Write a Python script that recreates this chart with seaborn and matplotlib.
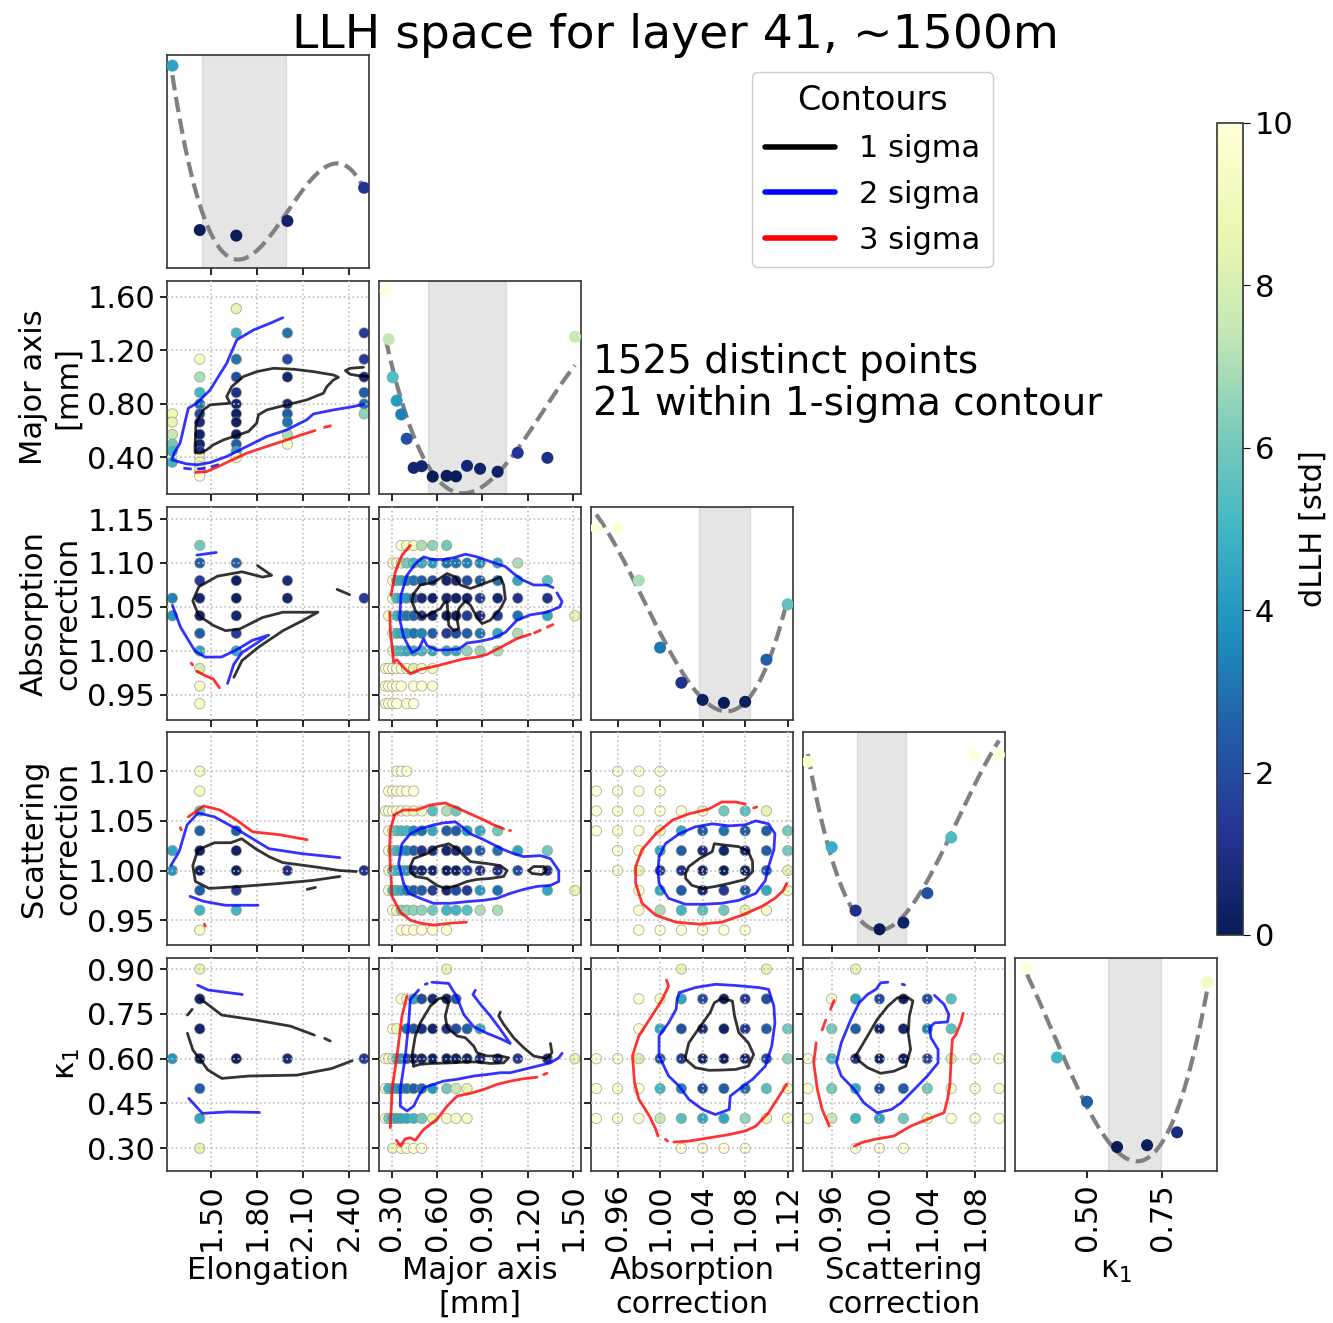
import numpy as np
import pandas as pd
import matplotlib
matplotlib.use("Agg")
import matplotlib.pyplot as plt
import seaborn as sns
from matplotlib.lines import Line2D
from matplotlib.cm import ScalarMappable
from matplotlib.colors import Normalize

sns.set_style("ticks")
plt.rcParams['font.family'] = ['DejaVu Sans']
plt.rcParams['text.color'] = 'black'
plt.rcParams['axes.labelcolor'] = 'black'
plt.rcParams['xtick.color'] = 'black'
plt.rcParams['ytick.color'] = 'black'
plt.rcParams['axes.edgecolor'] = '0.2'

# ---------------- data ----------------
PARAM_LABELS = ["Elongation", "Major axis\n[mm]", "Absorption\ncorrection",
                "Scattering\ncorrection", "\u03ba$_1$"]
TITLE = "LLH space for layer 41, ~1500m"
INFO_TEXT = "1525 distinct points\n21 within 1-sigma contour"
LEGEND_LABELS = ["1 sigma", "2 sigma", "3 sigma"]

XTICKS = [[1.5, 1.8, 2.1, 2.4], [0.3, 0.6, 0.9, 1.2, 1.5],
          [0.96, 1.00, 1.04, 1.08, 1.12], [0.96, 1.00, 1.04, 1.08], [0.50, 0.75]]
YTICKS = {1: [0.4, 0.8, 1.2, 1.6], 2: [0.95, 1.00, 1.05, 1.10, 1.15],
          3: [0.95, 1.00, 1.05, 1.10], 4: [0.30, 0.45, 0.60, 0.75, 0.90]}
XLIMS = [(1.215, 2.532), (0.216, 1.551), (0.935, 1.125), (0.936, 1.105), (0.26, 0.933)]
YLIMS = {1: (0.126, 1.717), 2: (0.9214, 1.1637), 3: (0.925, 1.1395), 4: (0.224, 0.937)}
DIAG_YLIMS = [(-0.82, 4.57), (-0.94, 10.54), (-0.98, 11.2), (-0.9, 11.3), (-1.34, 10.56)]

# 1D profiles (diagonal)
D0_X = [1.25, 1.4286, 1.6667, 2.0, 2.5]
D0_Y = [4.3, 0.14, 0.0, 0.37, 1.21]
D1_X = [0.26, 0.28, 0.3066, 0.333, 0.363, 0.399, 0.445, 0.498, 0.571, 0.663, 0.725,
        0.798, 0.884, 1.0, 1.133, 1.329, 1.511]
D1_Y = [10, 7.4, 5.35, 4.09, 3.35, 2.04, 0.47, 0.56, 0.0, 0.04, 0.01, 0.58, 0.42, 0.26,
        1.28, 1.01, 7.54]
D2_X = [0.94, 0.96, 0.98, 1.00, 1.02, 1.04, 1.06, 1.08, 1.10, 1.12]
D2_Y = [10, 10, 7.0, 3.16, 1.15, 0.17, 0.0, 0.06, 2.47, 5.63]
D3_X = [0.94, 0.96, 0.98, 1.00, 1.02, 1.04, 1.06, 1.08, 1.10]
D3_Y = [9.6, 4.7, 1.07, 0.0, 0.38, 2.07, 5.26, 10, 10]
D4_X = [0.3, 0.4, 0.5, 0.6, 0.7, 0.8, 0.9]
D4_Y = [10, 5.0, 2.53, 0.0, 0.1, 0.82, 9.2]
DIAG = [(D0_X, D0_Y), (D1_X, D1_Y), (D2_X, D2_Y), (D3_X, D3_Y), (D4_X, D4_Y)]
FIT_DEG = [3, 3, 3, 3, 3]
SPANS = [(1.443, 1.991), (0.542, 1.053), (1.037, 1.085), (0.981, 1.022), (0.57, 0.745)]

# 2D scatter points (x, y, dLLH)
P10 = [(1.25, 0.725, 9), (1.25, 0.663, 8.5), (1.25, 0.571, 7.5), (1.25, 0.498, 6), (1.25, 0.445, 5), (1.25, 0.363, 5),
       (1.4286, 1.133, 9.5), (1.4286, 1.0, 7), (1.4286, 0.884, 5), (1.4286, 0.798, 3), (1.4286, 0.725, 2),
       (1.4286, 0.663, 1), (1.4286, 0.571, 0.5), (1.4286, 0.498, 0.5), (1.4286, 0.445, 1), (1.4286, 0.399, 9),
       (1.4286, 0.363, 9.5), (1.4286, 0.333, 10), (1.4286, 0.3066, 10), (1.4286, 0.28, 10), (1.4286, 0.26, 10),
       (1.6667, 1.511, 8.5), (1.6667, 1.329, 5), (1.6667, 1.133, 3), (1.6667, 1.0, 2), (1.6667, 0.884, 1),
       (1.6667, 0.798, 0.5), (1.6667, 0.725, 0.3), (1.6667, 0.663, 0.2), (1.6667, 0.571, 0.3),
       (1.6667, 0.498, 2.5), (1.6667, 0.445, 4.5), (1.6667, 0.399, 9),
       (2.0, 1.329, 3), (2.0, 1.133, 2), (2.0, 1.0, 0.5), (2.0, 0.798, 0.8), (2.0, 0.725, 2.5),
       (2.0, 0.663, 3), (2.0, 0.571, 7), (2.0, 0.498, 9.5),
       (2.5, 1.329, 1.5), (2.5, 1.133, 1.5), (2.5, 1.0, 0.8), (2.5, 0.884, 2.5), (2.5, 0.798, 3), (2.5, 0.725, 6.5)]
P20 = [(1.25, 1.06, 3.5), (1.25, 1.04, 4),
       (1.4286, 1.12, 6), (1.4286, 1.10, 2.5), (1.4286, 1.08, 1.5), (1.4286, 1.06, 0.5), (1.4286, 1.04, 0.5),
       (1.4286, 1.02, 2.5), (1.4286, 1.00, 4.5), (1.4286, 0.98, 8), (1.4286, 0.96, 9.5), (1.4286, 0.94, 9.5),
       (1.6667, 1.10, 2.5), (1.6667, 1.08, 0.3), (1.6667, 1.06, 0.2), (1.6667, 1.04, 0.5), (1.6667, 1.02, 1.5),
       (1.6667, 1.00, 4.5), (2.0, 1.08, 0.8), (2.0, 1.06, 0.5), (2.5, 1.06, 1.5)]
P30 = [(1.25, 1.02, 4.5), (1.25, 1.00, 4),
       (1.4286, 1.10, 9.5), (1.4286, 1.08, 9.5), (1.4286, 1.06, 5.5), (1.4286, 1.04, 2.5), (1.4286, 1.02, 0.5),
       (1.4286, 1.00, 0.3), (1.4286, 0.98, 2.5), (1.4286, 0.96, 5), (1.4286, 0.94, 9.5),
       (1.6667, 1.04, 2.5), (1.6667, 1.02, 0.3), (1.6667, 1.00, 0.2), (1.6667, 0.98, 1.5), (1.6667, 0.96, 5),
       (2.0, 1.00, 1), (2.5, 1.00, 1.2)]
P40 = [(1.25, 0.6, 4),
       (1.4286, 0.9, 8.5), (1.4286, 0.8, 0.5), (1.4286, 0.7, 0.5), (1.4286, 0.6, 0.3), (1.4286, 0.5, 2.5),
       (1.4286, 0.4, 4.5), (1.4286, 0.3, 8.5),
       (1.6667, 0.6, 0.2), (2.0, 0.6, 0.8), (2.5, 0.6, 1.5)]

# rows: (y, [(x, dLLH), ...])
P21 = [(1.12, [(0.363, 10), (0.399, 9.5), (0.445, 9), (0.498, 7), (0.571, 6.5), (0.663, 6)]),
       (1.10, [(0.3066, 10), (0.333, 9.5), (0.363, 8), (0.399, 6), (0.445, 5), (0.498, 4.5), (0.571, 4),
               (0.663, 3), (0.725, 3), (0.798, 3.5), (0.884, 3.5), (1.0, 4.5), (1.133, 7)]),
       (1.08, [(0.3066, 9.5), (0.333, 5), (0.363, 4.5), (0.399, 3.5), (0.445, 3), (0.498, 2.5), (0.571, 2),
               (0.663, 0.5), (0.725, 0.8), (0.798, 2), (0.884, 2.5), (1.0, 3), (1.133, 4.5), (1.329, 5.5)]),
       (1.06, [(0.3066, 9.5), (0.333, 5), (0.363, 4.5), (0.399, 4), (0.445, 2.5), (0.498, 0.7), (0.571, 0.3),
               (0.663, 0.5), (0.725, 0.3), (0.798, 0.5), (0.884, 1.5), (1.0, 0.5), (1.133, 1.2), (1.329, 1.2)]),
       (1.04, [(0.28, 9.5), (0.333, 5), (0.363, 4), (0.399, 3), (0.445, 2.5), (0.498, 1.5), (0.571, 0.5),
               (0.663, 0.3), (0.725, 0.3), (0.798, 1.5), (0.884, 1), (1.0, 1.5), (1.133, 3), (1.329, 4.5),
               (1.511, 8.5)]),
       (1.02, [(0.3066, 9.5), (0.333, 5), (0.363, 4.5), (0.399, 4), (0.445, 3), (0.498, 3.5), (0.571, 2.5),
               (0.663, 1.5), (0.725, 2), (0.798, 2.5), (0.884, 3), (1.0, 4.5), (1.133, 7)]),
       (1.00, [(0.3066, 9.5), (0.333, 5.5), (0.363, 5), (0.399, 4.5), (0.445, 4.5), (0.498, 5), (0.571, 4.5),
               (0.663, 4.5), (0.725, 4.5), (0.798, 6.5), (0.884, 6.5), (1.0, 7)]),
       (0.98, [(0.26, 10), (0.28, 10), (0.3066, 10), (0.333, 10), (0.363, 10), (0.399, 9.5), (0.445, 8),
               (0.498, 9.5), (0.571, 9.5)]),
       (0.96, [(0.26, 10), (0.28, 10), (0.3066, 10), (0.333, 10), (0.363, 10), (0.445, 10), (0.498, 10),
               (0.571, 10)]),
       (0.94, [(0.26, 10), (0.28, 10), (0.3066, 10), (0.333, 10), (0.399, 10), (0.445, 10)])]
P31 = [(1.10, [(0.333, 10), (0.363, 10), (0.399, 10)]),
       (1.08, [(0.28, 10), (0.3066, 10), (0.333, 10), (0.363, 10), (0.399, 10), (0.445, 10)]),
       (1.06, [(0.26, 10), (0.28, 10), (0.3066, 10), (0.333, 10), (0.363, 10), (0.399, 9.5), (0.445, 9),
               (0.498, 9.5), (0.571, 5.5), (0.663, 7), (0.725, 6)]),
       (1.04, [(0.28, 10), (0.3066, 8.5), (0.333, 5.5), (0.363, 5), (0.399, 5), (0.445, 3.5), (0.498, 3),
               (0.571, 4.5), (0.663, 2.5), (0.725, 2.5), (0.798, 4), (0.884, 4.5), (1.0, 6)]),
       (1.02, [(0.28, 9.5), (0.3066, 6.5), (0.333, 5), (0.363, 4.5), (0.399, 3.5), (0.445, 2.5), (0.498, 1.2),
               (0.571, 1), (0.663, 0.5), (0.725, 0.8), (0.798, 2), (0.884, 2.5), (1.0, 3), (1.133, 4.5),
               (1.329, 6)]),
       (1.00, [(0.28, 9.5), (0.3066, 5), (0.333, 5), (0.363, 4.5), (0.399, 4), (0.445, 1), (0.498, 0.5),
               (0.571, 0.5), (0.663, 0.2), (0.725, 0.3), (0.798, 1.5), (0.884, 1), (1.0, 1), (1.133, 2),
               (1.329, 1.2)]),
       (0.98, [(0.28, 9.5), (0.3066, 5), (0.333, 5), (0.363, 4.5), (0.399, 3.5), (0.445, 2.5), (0.498, 2.5),
               (0.571, 1.5), (0.663, 0.8), (0.725, 2), (0.798, 1.5), (0.884, 4), (1.0, 3), (1.329, 4.5),
               (1.511, 8.5)]),
       (0.96, [(0.3066, 10), (0.333, 9), (0.363, 6.5), (0.399, 6.5), (0.445, 6.5), (0.498, 6.5), (0.571, 6),
               (0.663, 5), (0.725, 5), (0.798, 5.5), (0.884, 7), (1.0, 7)]),
       (0.94, [(0.363, 10), (0.399, 10), (0.445, 10), (0.498, 10), (0.571, 10), (0.663, 10)])]
P41 = [(0.9, [(0.663, 8.5)]),
       (0.8, [(0.363, 10), (0.399, 9.5), (0.445, 4.5), (0.498, 2), (0.571, 0.8), (0.663, 0.5), (0.725, 2.5)]),
       (0.7, [(0.3066, 10), (0.333, 9), (0.399, 3), (0.445, 2), (0.498, 1), (0.571, 0.5), (0.663, 1.2),
              (0.725, 2), (0.798, 2.5), (0.884, 4.5)]),
       (0.6, [(0.26, 10), (0.28, 10), (0.3066, 8), (0.333, 5), (0.363, 4), (0.399, 2), (0.445, 0.8),
              (0.498, 0.5), (0.571, 0.3), (0.663, 0.2), (0.725, 0.3), (0.798, 0.5), (0.884, 0.8), (1.0, 0.8),
              (1.133, 1.5), (1.329, 1), (1.511, 8.5)]),
       (0.5, [(0.26, 10), (0.28, 5), (0.3066, 4.5), (0.333, 4), (0.363, 3.5), (0.399, 3), (0.445, 2.5),
              (0.498, 3), (0.571, 4), (0.663, 6), (0.725, 7.5), (0.798, 8.5)]),
       (0.4, [(0.26, 10), (0.28, 6), (0.3066, 5), (0.333, 4.5), (0.363, 4.5), (0.399, 4.5), (0.445, 5),
              (0.498, 6), (0.571, 8.5), (0.663, 9.5), (0.725, 9.5), (0.798, 9.5)]),
       (0.3, [(0.3066, 9), (0.363, 9.5), (0.399, 10), (0.445, 10), (0.498, 10)])]
P32 = [(1.10, [(0.96, 10), (0.98, 10), (1.00, 10)]),
       (1.08, [(0.94, 10), (0.96, 10), (0.98, 10), (1.00, 10)]),
       (1.06, [(0.94, 10), (0.96, 10), (0.98, 10), (1.00, 10), (1.02, 10), (1.04, 9.5), (1.06, 6), (1.08, 5.5),
               (1.10, 8.5)]),
       (1.04, [(0.94, 10), (0.96, 10), (0.98, 10), (1.00, 9), (1.02, 4.5), (1.04, 2.5), (1.06, 3), (1.08, 2.5),
               (1.10, 2.5), (1.12, 6)]),
       (1.02, [(0.96, 10), (0.98, 10), (1.00, 4.5), (1.02, 2.5), (1.04, 1), (1.06, 0.5), (1.08, 0.8),
               (1.10, 2.5), (1.12, 6)]),
       (1.00, [(0.96, 10), (0.98, 8.5), (1.00, 1.5), (1.02, 1.2), (1.04, 0.5), (1.06, 0.2), (1.08, 0.3),
               (1.10, 2.5), (1.12, 8.5)]),
       (0.98, [(0.98, 10), (1.00, 4.5), (1.02, 2.5), (1.04, 0.8), (1.06, 1.5), (1.08, 2.5), (1.10, 4.5),
               (1.12, 9.5)]),
       (0.96, [(0.98, 10), (1.00, 7), (1.02, 5), (1.04, 5.5), (1.06, 6), (1.08, 8.5), (1.10, 9.5)]),
       (0.94, [(0.98, 10), (1.00, 10), (1.02, 10), (1.04, 10), (1.06, 10), (1.08, 10)])]
P42 = [(0.9, [(1.02, 8.5), (1.10, 8.5)]),
       (0.8, [(0.98, 10), (1.00, 9.5), (1.02, 4.5), (1.04, 2), (1.06, 0.3), (1.08, 1.5), (1.10, 2)]),
       (0.7, [(0.98, 10), (1.00, 4.5), (1.02, 2), (1.04, 1), (1.06, 0.3), (1.08, 1.5), (1.10, 2.5), (1.12, 6)]),
       (0.6, [(0.94, 10), (0.96, 10), (0.98, 8), (1.00, 2.5), (1.02, 1.5), (1.04, 0.5), (1.06, 0.2),
              (1.08, 0.5), (1.10, 2), (1.12, 6.5)]),
       (0.5, [(0.94, 10), (0.96, 10), (0.98, 10), (1.00, 5), (1.02, 3.5), (1.04, 2), (1.06, 2.5), (1.08, 3),
              (1.10, 5.5), (1.12, 9.5)]),
       (0.4, [(0.94, 10), (0.96, 10), (0.98, 10), (1.00, 7.5), (1.02, 5.5), (1.04, 4.5), (1.06, 4.5),
              (1.08, 6.5), (1.10, 9), (1.12, 9.5)]),
       (0.3, [(1.02, 10), (1.04, 10), (1.06, 10), (1.08, 10)])]
P43 = [(0.9, [(0.98, 8.5)]),
       (0.8, [(0.96, 10), (0.98, 4.5), (1.00, 2), (1.02, 0.3), (1.04, 2), (1.06, 5.5)]),
       (0.7, [(0.96, 6), (0.98, 2.5), (1.00, 0.5), (1.02, 0.5), (1.04, 3.5), (1.06, 5.5)]),
       (0.6, [(0.94, 10), (0.96, 5), (0.98, 1.2), (1.00, 0.3), (1.02, 0.2), (1.04, 1.8), (1.06, 8), (1.08, 10),
              (1.10, 10)]),
       (0.5, [(0.94, 10), (0.96, 6), (0.98, 4.5), (1.00, 2), (1.02, 2.5), (1.04, 6), (1.06, 9.5), (1.08, 10),
              (1.10, 10)]),
       (0.4, [(0.94, 10), (0.96, 7.5), (0.98, 5), (1.00, 4.5), (1.02, 6), (1.04, 9.5), (1.06, 10), (1.08, 10),
              (1.10, 10)]),
       (0.3, [(0.98, 10), (1.00, 10), (1.02, 10)])]

# contour paths: (kind, [(x, y), ...]); kind: k/b/r, trailing 'd' = dashed piece
C10 = [("k", [(1.398, 0.481), (1.404, 0.655), (1.452, 0.754), (1.496, 0.792), (1.626, 0.804), (1.604, 0.854),
              (1.637, 0.928), (1.713, 1.003), (1.800, 1.040), (1.909, 1.065), (2.039, 1.058), (2.170, 1.040),
              (2.300, 1.015), (2.333, 0.998), (2.300, 0.978), (2.257, 0.928), (2.235, 0.879), (2.126, 0.829),
              (1.996, 0.792), (1.865, 0.754), (1.811, 0.717), (1.800, 0.655), (1.746, 0.593), (1.648, 0.555),
              (1.583, 0.530), (1.517, 0.493), (1.474, 0.456), (1.430, 0.431), (1.398, 0.436), (1.398, 0.481)]),
       ("k", [(2.496, 1.073), (2.409, 1.065), (2.378, 1.048), (2.409, 1.020), (2.474, 1.008), (2.533, 1.003)]),
       ("b", [(1.970, 1.443), (1.887, 1.401), (1.778, 1.351), (1.670, 1.277), (1.604, 1.102), (1.496, 0.903),
              (1.409, 0.804), (1.354, 0.767), (1.300, 0.505), (1.261, 0.431), (1.246, 0.381), (1.343, 0.351),
              (1.409, 0.344), (1.496, 0.361), (1.604, 0.406), (1.735, 0.481), (1.865, 0.555), (1.996, 0.605),
              (2.126, 0.680), (2.170, 0.724), (2.300, 0.754), (2.430, 0.779), (2.496, 0.797)]),
       ("bd", [(1.322, 0.319), (1.387, 0.311), (1.474, 0.319), (1.583, 0.356)]),
       ("r", [(1.404, 0.287), (1.474, 0.294), (1.539, 0.326), (1.604, 0.361), (1.735, 0.431), (1.865, 0.481),
              (1.996, 0.530), (2.083, 0.565), (2.180, 0.600)]),
       ("rd", [(2.235, 0.622), (2.289, 0.637)])]
C20 = [("k", [(1.805, 1.097), (1.897, 1.086), (1.838, 1.084), (1.704, 1.090), (1.544, 1.085), (1.423, 1.073),
              (1.383, 1.057), (1.423, 1.040), (1.517, 1.029), (1.597, 1.023), (1.690, 1.025), (1.838, 1.038),
              (1.971, 1.044), (2.199, 1.044), (2.105, 1.035), (1.971, 1.023), (1.810, 1.004), (1.704, 0.989),
              (1.651, 0.970)]),
       ("k", [(2.324, 1.070), (2.405, 1.064)]),
       ("b", [(1.410, 1.109), (1.536, 1.112)]),
       ("b", [(1.250, 1.052), (1.303, 1.027), (1.397, 1.000), (1.463, 0.993), (1.570, 0.993), (1.677, 1.002),
              (1.771, 1.012), (1.878, 1.018), (1.810, 1.010), (1.704, 0.998), (1.651, 0.985), (1.610, 0.963)]),
       ("r", [(1.374, 0.986), (1.382, 0.984)]),
       ("r", [(1.410, 0.977), (1.463, 0.972), (1.517, 0.968), (1.557, 0.958)])]
C30 = [("k", [(2.449, 0.999), (2.342, 1.000), (2.165, 1.004), (1.969, 1.008), (1.880, 1.014), (1.792, 1.022),
              (1.702, 1.032), (1.631, 1.028), (1.525, 1.028), (1.418, 1.021), (1.383, 1.005), (1.400, 0.989),
              (1.489, 0.982), (1.702, 0.984), (1.951, 0.987), (2.165, 0.990), (2.342, 0.994)]),
       ("k", [(2.129, 0.981), (2.183, 0.983)]),
       ("b", [(1.240, 1.005), (1.294, 1.019), (1.346, 1.046), (1.418, 1.058), (1.525, 1.054), (1.667, 1.042),
              (1.773, 1.032), (1.880, 1.022), (2.094, 1.017), (2.342, 1.013)]),
       ("b", [(1.365, 0.974), (1.454, 0.969), (1.596, 0.965), (1.809, 0.965)]),
       ("r", [(1.354, 1.054), (1.454, 1.065), (1.560, 1.061), (1.667, 1.051), (1.773, 1.039), (1.951, 1.036),
              (2.129, 1.031)]),
       ("r", [(1.302, 1.043), (1.308, 1.041)]),
       ("r", [(1.459, 0.946), (1.465, 0.944)])]
C40 = [("k", [(1.429, 0.802), (1.572, 0.746), (1.796, 0.729), (2.019, 0.709), (2.176, 0.679)]),
       ("k", [(2.243, 0.668), (2.279, 0.659)]),
       ("k", [(1.348, 0.685), (1.384, 0.629), (1.482, 0.562), (1.572, 0.534), (1.751, 0.542), (2.064, 0.545),
              (2.288, 0.567), (2.422, 0.593)]),
       ("k", [(1.348, 0.746), (1.379, 0.765)]),
       ("b", [(1.415, 0.846), (1.482, 0.830), (1.706, 0.815)]),
       ("b", [(1.357, 0.467), (1.446, 0.417), (1.617, 0.422), (1.818, 0.420)])]
C21 = [("k", [(0.445, 1.065), (0.489, 1.075), (0.577, 1.078), (0.666, 1.088), (0.721, 1.084), (0.754, 1.075),
              (0.820, 1.071), (0.886, 1.075), (0.963, 1.080), (1.018, 1.084), (1.040, 1.075), (1.051, 1.059),
              (1.018, 1.048), (0.952, 1.035), (0.897, 1.031), (0.864, 1.038), (0.820, 1.052), (0.787, 1.057),
              (0.743, 1.048), (0.732, 1.036), (0.743, 1.025), (0.710, 1.023), (0.677, 1.029), (0.666, 1.056),
              (0.644, 1.054), (0.621, 1.048), (0.555, 1.042), (0.500, 1.038), (0.456, 1.046), (0.434, 1.056),
              (0.445, 1.065)]),
       ("b", [(1.366, 1.072), (1.326, 1.075), (1.238, 1.075), (1.161, 1.081), (1.106, 1.088), (1.051, 1.096),
              (0.963, 1.101), (0.864, 1.107), (0.787, 1.110), (0.710, 1.106), (0.643, 1.104), (0.566, 1.104),
              (0.511, 1.107), (0.456, 1.099), (0.401, 1.086), (0.361, 1.063), (0.353, 1.036), (0.379, 1.016),
              (0.434, 0.998), (0.478, 1.002), (0.511, 1.014), (0.533, 1.006), (0.599, 1.001), (0.676, 1.001),
              (0.743, 1.002), (0.798, 1.009), (0.886, 1.011), (0.963, 1.014), (1.051, 1.021), (1.128, 1.035),
              (1.216, 1.041), (1.326, 1.044), (1.410, 1.050), (1.426, 1.056), (1.392, 1.066)]),
       ("r", [(0.423, 1.120), (0.368, 1.109), (0.324, 1.090), (0.295, 1.063)]),
       ("r", [(0.287, 1.044), (0.291, 1.021), (0.302, 1.006), (0.313, 0.987), (0.335, 0.990), (0.368, 0.983),
              (0.423, 0.974), (0.489, 0.979), (0.599, 0.983), (0.688, 0.987), (0.776, 0.991), (0.864, 0.993),
              (0.930, 0.996), (1.040, 1.006), (1.128, 1.014), (1.216, 1.019)]),
       ("rd", [(1.238, 1.020), (1.392, 1.032)])]
C31 = [("k", [(0.423, 1.004), (0.445, 1.012), (0.533, 1.017), (0.599, 1.024), (0.654, 1.026), (0.676, 1.027),
              (0.732, 1.022), (0.776, 1.015), (0.820, 1.009), (0.930, 1.007), (1.018, 1.005), (1.062, 1.000),
              (1.040, 0.994), (0.952, 0.992), (0.864, 0.991), (0.798, 0.989), (0.732, 0.985), (0.654, 0.982),
              (0.599, 0.985), (0.533, 0.992), (0.456, 0.994), (0.423, 0.999), (0.423, 1.004)]),
       ("k", [(1.205, 1.000), (1.238, 1.004), (1.304, 1.004), (1.326, 1.000), (1.293, 0.996), (1.227, 0.997),
              (1.205, 1.000)]),
       ("b", [(0.379, 0.987), (0.346, 1.007), (0.368, 1.027), (0.423, 1.037), (0.489, 1.042), (0.577, 1.046),
              (0.643, 1.048), (0.721, 1.049), (0.765, 1.044), (0.820, 1.037), (0.908, 1.031), (0.974, 1.026),
              (1.040, 1.021), (1.106, 1.017), (1.172, 1.014), (1.282, 1.015), (1.349, 1.012), (1.404, 1.000),
              (1.404, 0.989), (1.349, 0.985), (1.260, 0.984), (1.172, 0.981), (1.084, 0.977), (0.996, 0.972),
              (0.908, 0.970), (0.820, 0.969), (0.688, 0.967), (0.577, 0.967), (0.489, 0.972), (0.412, 0.977),
              (0.379, 0.987)]),
       ("r", [(0.313, 1.056), (0.379, 1.061), (0.467, 1.061), (0.555, 1.066), (0.654, 1.068), (0.732, 1.063),
              (0.820, 1.057), (0.908, 1.051), (0.974, 1.046), (1.040, 1.042)]),
       ("r", [(1.073, 1.041), (1.080, 1.041)]),
       ("r", [(0.317, 1.055), (0.291, 1.041), (0.287, 1.024), (0.291, 1.000)]),
       ("r", [(0.295, 0.994), (0.302, 0.974), (0.357, 0.958), (0.423, 0.950), (0.489, 0.947), (0.577, 0.945),
              (0.688, 0.947), (0.794, 0.948)])]
C41 = [("k", [(0.445, 0.575), (0.434, 0.609), (0.456, 0.676), (0.489, 0.720), (0.555, 0.776), (0.610, 0.801),
              (0.654, 0.804), (0.676, 0.787), (0.654, 0.743), (0.666, 0.704), (0.732, 0.676), (0.787, 0.670),
              (0.842, 0.642), (0.864, 0.620), (0.930, 0.609), (1.018, 0.609), (1.073, 0.603), (1.040, 0.586),
              (0.952, 0.584), (0.864, 0.589), (0.798, 0.589), (0.688, 0.586), (0.555, 0.584), (0.489, 0.581),
              (0.445, 0.575)]),
       ("k", [(1.018, 0.756), (1.007, 0.743), (1.040, 0.715), (1.106, 0.670), (1.172, 0.637), (1.238, 0.609),
              (1.326, 0.600), (1.359, 0.620), (1.349, 0.651)]),
       ("b", [(0.853, 0.829), (0.837, 0.815), (0.886, 0.782), (0.952, 0.743), (1.018, 0.698), (1.084, 0.651),
              (1.018, 0.667), (0.930, 0.685), (0.842, 0.707), (0.776, 0.748), (0.727, 0.810), (0.676, 0.852),
              (0.566, 0.856)]),
       ("b", [(0.478, 0.830), (0.423, 0.798), (0.412, 0.720), (0.390, 0.609), (0.357, 0.497), (0.357, 0.441),
              (0.401, 0.425), (0.445, 0.441), (0.478, 0.475), (0.511, 0.503), (0.577, 0.514), (0.643, 0.525),
              (0.732, 0.531), (0.842, 0.542), (0.930, 0.547), (1.018, 0.553), (1.084, 0.553), (1.172, 0.564),
              (1.260, 0.575), (1.349, 0.586), (1.404, 0.603), (1.426, 0.618)]),
       ("b", [(0.522, 0.849), (0.535, 0.851)]),
       ("r", [(0.401, 0.810), (0.368, 0.743), (0.335, 0.609), (0.302, 0.497), (0.291, 0.369)]),
       ("r", [(0.331, 0.327), (0.357, 0.307), (0.390, 0.332), (0.423, 0.335), (0.456, 0.327), (0.511, 0.363),
              (0.599, 0.397), (0.666, 0.441), (0.732, 0.475), (0.820, 0.484), (0.908, 0.497), (0.996, 0.514),
              (1.084, 0.525), (1.172, 0.533), (1.260, 0.538)]),
       ("r", [(1.304, 0.547), (1.326, 0.551)])]
C32 = [("k", [(1.024, 0.997), (1.027, 1.004), (1.037, 1.012), (1.049, 1.019), (1.051, 1.027), (1.058, 1.026),
              (1.074, 1.024), (1.083, 1.019), (1.087, 1.009), (1.087, 0.999), (1.080, 0.991), (1.065, 0.987),
              (1.052, 0.984), (1.040, 0.982), (1.030, 0.985), (1.024, 0.992), (1.024, 0.997)]),
       ("b", [(0.999, 1.014), (1.005, 1.027), (1.018, 1.037), (1.033, 1.044), (1.049, 1.047), (1.065, 1.045),
              (1.080, 1.046), (1.090, 1.050), (1.102, 1.047), (1.108, 1.037), (1.107, 1.021), (1.102, 1.004),
              (1.099, 0.990), (1.090, 0.977), (1.074, 0.970), (1.058, 0.967), (1.040, 0.966), (1.024, 0.966),
              (1.008, 0.972), (0.999, 0.987), (0.998, 1.000), (0.999, 1.014)]),
       ("r", [(1.080, 1.067), (1.071, 1.069), (1.058, 1.069), (1.046, 1.062), (1.027, 1.057), (1.012, 1.051),
              (0.996, 1.037), (0.983, 1.021), (0.977, 1.004), (0.977, 0.987), (0.983, 0.967), (0.996, 0.955),
              (1.015, 0.948), (1.037, 0.946), (1.058, 0.948), (1.077, 0.955), (1.096, 0.964), (1.108, 0.972),
              (1.116, 0.980), (1.119, 0.987)]),
       ("r", [(1.088, 1.063), (1.091, 1.064)])]
C42 = [("k", [(1.024, 0.609), (1.027, 0.653), (1.037, 0.704), (1.047, 0.754), (1.051, 0.787), (1.058, 0.802),
              (1.068, 0.793), (1.070, 0.743), (1.074, 0.687), (1.083, 0.653), (1.088, 0.614), (1.083, 0.575),
              (1.071, 0.564), (1.058, 0.562), (1.046, 0.561), (1.033, 0.570), (1.024, 0.598), (1.024, 0.609)]),
       ("b", [(1.018, 0.821), (1.033, 0.838), (1.052, 0.849), (1.071, 0.845), (1.093, 0.838), (1.102, 0.832),
              (1.107, 0.776), (1.108, 0.720), (1.105, 0.642), (1.099, 0.575), (1.087, 0.531), (1.074, 0.497),
              (1.066, 0.475), (1.065, 0.430), (1.052, 0.413), (1.040, 0.430), (1.027, 0.464), (1.018, 0.508),
              (1.008, 0.542), (0.999, 0.609), (0.999, 0.676), (1.008, 0.720), (1.015, 0.765), (1.016, 0.798),
              (1.018, 0.821)]),
       ("r", [(1.006, 0.863), (1.008, 0.843), (1.002, 0.798), (0.990, 0.731), (0.980, 0.676), (0.974, 0.609),
              (0.976, 0.519), (0.980, 0.464), (0.990, 0.408), (0.996, 0.363), (0.998, 0.341)]),
       ("r", [(1.005, 0.330), (1.007, 0.324)]),
       ("r", [(1.013, 0.321), (1.027, 0.324), (1.046, 0.335), (1.065, 0.346), (1.080, 0.358), (1.090, 0.374),
              (1.102, 0.419), (1.112, 0.475), (1.119, 0.514)])]
C43 = [("k", [(0.980, 0.609), (0.985, 0.642), (0.990, 0.676), (0.998, 0.731), (1.007, 0.776), (1.015, 0.804),
              (1.024, 0.804), (1.028, 0.793), (1.025, 0.743), (1.024, 0.687), (1.026, 0.631), (1.022, 0.575),
              (1.012, 0.558), (1.001, 0.551), (0.990, 0.570), (0.983, 0.592), (0.980, 0.609)]),
       ("b", [(1.007, 0.856), (1.001, 0.854), (0.997, 0.832), (0.990, 0.815), (0.983, 0.787), (0.976, 0.731),
              (0.968, 0.653), (0.964, 0.586), (0.968, 0.542), (0.979, 0.497), (0.987, 0.452), (0.998, 0.419),
              (1.010, 0.430), (1.018, 0.452), (1.029, 0.497), (1.040, 0.542), (1.049, 0.586), (1.049, 0.631),
              (1.043, 0.670), (1.042, 0.704), (1.046, 0.720), (1.057, 0.723), (1.058, 0.748), (1.054, 0.782),
              (1.046, 0.812)]),
       ("b", [(1.019, 0.849), (1.021, 0.847)]),
       ("r", [(0.962, 0.795), (0.959, 0.765)]),
       ("r", [(0.955, 0.729), (0.952, 0.696)]),
       ("r", [(0.947, 0.653), (0.945, 0.586), (0.948, 0.497), (0.952, 0.430), (0.958, 0.374)]),
       ("r", [(1.070, 0.752), (1.068, 0.720), (1.064, 0.681), (1.061, 0.665), (1.060, 0.609), (1.059, 0.519),
              (1.057, 0.464), (1.054, 0.419), (1.040, 0.397), (1.026, 0.374), (1.012, 0.341), (0.996, 0.330),
              (0.985, 0.319), (0.979, 0.307)])]

SCATTER = {(1, 0): P10, (2, 0): P20, (3, 0): P30, (4, 0): P40,
           (2, 1): P21, (3, 1): P31, (4, 1): P41, (3, 2): P32, (4, 2): P42, (4, 3): P43}
CONTOURS = {(1, 0): C10, (2, 0): C20, (3, 0): C30, (4, 0): C40, (2, 1): C21, (3, 1): C31,
            (4, 1): C41, (3, 2): C32, (4, 2): C42, (4, 3): C43}

# ---------------- drawing ----------------
W, H = 1333, 1323
CMAP = "YlGnBu_r"
NORM = Normalize(0, 10)
COLS_LEFT = [167, 379, 591, 803, 1015]
ROWS_TOP = [55, 281, 507, 732, 958]
AW, AH = 202, 213
LINE_COL = {"k": "black", "b": "blue", "r": "red"}


def to_frame(pts):
    if isinstance(pts[0][1], list):
        recs = [(x, y, v) for y, row in pts for x, v in row]
    else:
        recs = list(pts)
    return pd.DataFrame(recs, columns=["x", "y", "v"])


fig = plt.figure(figsize=(W / 100, H / 100), dpi=100)

for i in range(5):
    for j in range(i + 1):
        ax = fig.add_axes([COLS_LEFT[j] / W, (H - ROWS_TOP[i] - AH) / H, AW / W, AH / H])
        ax.set_xlim(*XLIMS[j])
        ax.set_xticks(XTICKS[j])
        ax.tick_params(labelsize=22, length=5, width=1.2)
        if i == j:
            dx, dy = DIAG[i]
            lo, hi = SPANS[i]
            ax.axvspan(lo, hi, color="grey", alpha=0.2, zorder=0)
            coef = np.polyfit(dx, dy, FIT_DEG[i])
            xs = np.linspace(min(dx), max(dx), 300)
            ax.plot(xs, np.polyval(coef, xs), ls="--", color="grey", lw=3, zorder=2)
            df = pd.DataFrame({"x": dx, "y": dy, "v": dy})
            sns.scatterplot(data=df, x="x", y="y", hue="v", palette=CMAP, hue_norm=(0, 10),
                            s=75, edgecolor="none", legend=False, ax=ax, zorder=3)
            ax.set_ylim(*DIAG_YLIMS[i])
            ax.set_yticks([])
        else:
            df = to_frame(SCATTER[(i, j)])
            sns.scatterplot(data=df, x="x", y="y", hue="v", palette=CMAP, hue_norm=(0, 10),
                            s=55, edgecolor=(0.55, 0.55, 0.45, 0.7), linewidth=0.6,
                            legend=False, ax=ax, zorder=1)
            for kind, path in CONTOURS[(i, j)]:
                px = [p[0] for p in path]
                py = [p[1] for p in path]
                ls = (0, (3, 2)) if kind.endswith("d") else "-"
                ax.plot(px, py, color=LINE_COL[kind[0]], alpha=0.8, lw=2, ls=ls, zorder=4)
            ax.set_ylim(*YLIMS[i])
            ax.set_yticks(YTICKS[i])
            ax.grid(True, ls=":", color="0.75", lw=1.2)
            ax.set_axisbelow(False)
        ax.set_xlabel("")
        ax.set_ylabel("")
        if i == 4:
            ax.set_xticklabels([f"{t:.2f}" for t in XTICKS[j]], rotation=90)
            ax.set_xlabel(PARAM_LABELS[j], fontsize=22)
        else:
            ax.set_xticklabels([])
        if j == 0 and i > 0:
            ax.set_yticklabels([f"{t:.2f}" for t in YTICKS[i]])
            ax.set_ylabel(PARAM_LABELS[i], fontsize=22)
        elif i != j:
            ax.set_yticklabels([])
        for sp in ax.spines.values():
            sp.set_visible(True)
            sp.set_linewidth(1.2)

# colorbar
cax = fig.add_axes([1217 / W, (H - 935) / H, 26 / W, 812 / H])
sm = ScalarMappable(norm=NORM, cmap=CMAP)
cb = fig.colorbar(sm, cax=cax)
cb.set_ticks([0, 2, 4, 6, 8, 10])
cb.ax.tick_params(labelsize=22, length=5)
cb.set_label("dLLH [std]", fontsize=22, labelpad=4)
cb.outline.set_linewidth(1.2)

# legend
handles = [Line2D([], [], color=c, lw=4) for c in ["black", "blue", "red"]]
fig.legend(handles, LEGEND_LABELS, title="Contours", loc="upper left",
           bbox_to_anchor=(737 / W, 1 - 57 / H), fontsize=22, title_fontsize=24,
           handlelength=2.3, labelspacing=0.55, framealpha=1, edgecolor="0.8", fancybox=True)

fig.text(593 / W, 1 - 383 / H, INFO_TEXT, fontsize=28, ha="left", va="center", linespacing=1.15)
fig.text(675 / W, 1 - 36 / H, TITLE, fontsize=34, ha="center", va="center")

fig.savefig("out.png", dpi=100)
